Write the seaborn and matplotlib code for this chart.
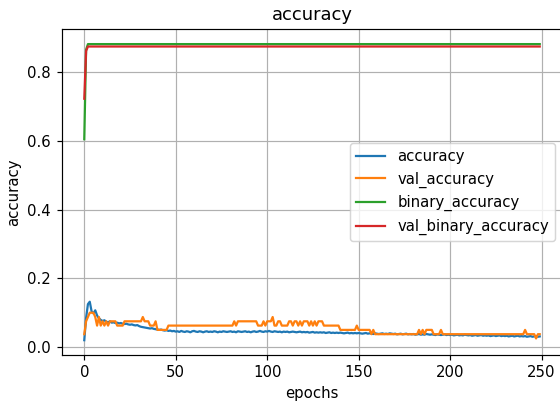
import numpy as np
import pandas as pd
import matplotlib
matplotlib.use("Agg")
import matplotlib.pyplot as plt
import seaborn as sns

accuracy = [
    0.020, 0.085, 0.125, 0.132, 0.104, 0.098, 0.107, 0.092, 0.084, 0.079,
    0.076, 0.078, 0.074, 0.072, 0.075, 0.071, 0.072, 0.070, 0.071, 0.069,
    0.070, 0.068, 0.067, 0.068, 0.066, 0.065, 0.066, 0.064, 0.063, 0.064,
    0.061, 0.059, 0.058, 0.057, 0.056, 0.055, 0.054, 0.055, 0.053, 0.052,
    0.051, 0.050, 0.051, 0.049, 0.048, 0.049, 0.047, 0.048, 0.046, 0.047,
    0.045, 0.046, 0.044, 0.047, 0.045, 0.044, 0.046, 0.045, 0.043, 0.046,
    0.047, 0.045, 0.044, 0.046, 0.045, 0.043, 0.045, 0.046, 0.044, 0.045,
    0.044, 0.046, 0.045, 0.043, 0.045, 0.044, 0.046, 0.045, 0.044, 0.045,
    0.046, 0.044, 0.045, 0.043, 0.046, 0.045, 0.044, 0.045, 0.046, 0.044,
    0.045, 0.043, 0.045, 0.046, 0.044, 0.045, 0.047, 0.045, 0.044, 0.046,
    0.045, 0.047, 0.045, 0.044, 0.046, 0.045, 0.044, 0.045, 0.043, 0.045,
    0.044, 0.045, 0.043, 0.044, 0.045, 0.044, 0.043, 0.044, 0.045, 0.043,
    0.044, 0.043, 0.044, 0.042, 0.043, 0.044, 0.042, 0.043, 0.042, 0.043,
    0.042, 0.043, 0.041, 0.042, 0.043, 0.041, 0.042, 0.041, 0.042, 0.041,
    0.042, 0.041, 0.040, 0.041, 0.042, 0.040, 0.041, 0.040, 0.041, 0.040,
    0.041, 0.040, 0.039, 0.040, 0.041, 0.039, 0.040, 0.039, 0.038, 0.040,
    0.039, 0.038, 0.039, 0.040, 0.038, 0.039, 0.038, 0.040, 0.039, 0.038,
    0.039, 0.037, 0.038, 0.039, 0.037, 0.038, 0.039, 0.037, 0.038, 0.037,
    0.038, 0.036, 0.037, 0.038, 0.036, 0.037, 0.036, 0.038, 0.037, 0.036,
    0.037, 0.036, 0.035, 0.037, 0.036, 0.035, 0.036, 0.037, 0.035, 0.036,
    0.035, 0.036, 0.034, 0.035, 0.036, 0.034, 0.035, 0.034, 0.036, 0.035,
    0.034, 0.035, 0.033, 0.034, 0.035, 0.033, 0.034, 0.035, 0.033, 0.034,
    0.033, 0.034, 0.032, 0.033, 0.034, 0.032, 0.033, 0.034, 0.032, 0.033,
    0.032, 0.033, 0.031, 0.032, 0.033, 0.031, 0.032, 0.033, 0.031, 0.032,
    0.031, 0.032, 0.030, 0.031, 0.032, 0.030, 0.031, 0.032, 0.030, 0.031,
]

val_accuracy = [
    0.0375, 0.075, 0.0875, 0.1, 0.1, 0.1, 0.0875, 0.0625, 0.0875, 0.0625,
    0.075, 0.0625, 0.075, 0.0625, 0.075, 0.075, 0.075, 0.075, 0.0625, 0.0625,
    0.0625, 0.0625, 0.075, 0.075, 0.075, 0.075, 0.075, 0.075, 0.075, 0.075,
    0.075, 0.075, 0.0875, 0.075, 0.075, 0.075, 0.0625, 0.0625, 0.0625, 0.075,
    0.05, 0.05, 0.05, 0.05, 0.05, 0.05, 0.0625, 0.0625, 0.0625, 0.0625,
    0.0625, 0.0625, 0.0625, 0.0625, 0.0625, 0.0625, 0.0625, 0.0625, 0.0625, 0.0625,
    0.0625, 0.0625, 0.0625, 0.0625, 0.0625, 0.0625, 0.0625, 0.0625, 0.0625, 0.0625,
    0.0625, 0.0625, 0.0625, 0.0625, 0.0625, 0.0625, 0.0625, 0.0625, 0.0625, 0.0625,
    0.0625, 0.0625, 0.075, 0.0625, 0.075, 0.075, 0.075, 0.075, 0.075, 0.075,
    0.075, 0.075, 0.075, 0.075, 0.075, 0.0625, 0.0625, 0.0625, 0.075, 0.0625,
    0.075, 0.075, 0.075, 0.0875, 0.0625, 0.0625, 0.075, 0.075, 0.0625, 0.0625,
    0.0625, 0.0625, 0.075, 0.075, 0.0625, 0.075, 0.075, 0.0625, 0.075, 0.0625,
    0.075, 0.075, 0.075, 0.0625, 0.075, 0.0625, 0.075, 0.0625, 0.075, 0.075,
    0.075, 0.0625, 0.0625, 0.0625, 0.0625, 0.0625, 0.0625, 0.0625, 0.0625, 0.0625,
    0.05, 0.05, 0.05, 0.05, 0.05, 0.05, 0.05, 0.05, 0.05, 0.0625,
    0.05, 0.05, 0.05, 0.05, 0.05, 0.05, 0.05, 0.0375, 0.05, 0.0375,
    0.0375, 0.0375, 0.0375, 0.0375, 0.0375, 0.0375, 0.0375, 0.0375, 0.0375, 0.0375,
    0.0375, 0.0375, 0.0375, 0.0375, 0.0375, 0.0375, 0.0375, 0.0375, 0.0375, 0.0375,
    0.0375, 0.0375, 0.0375, 0.05, 0.0375, 0.05, 0.0375, 0.05, 0.05, 0.05,
    0.05, 0.0375, 0.0375, 0.0375, 0.0375, 0.05, 0.0375, 0.0375, 0.0375, 0.0375,
    0.0375, 0.0375, 0.0375, 0.0375, 0.0375, 0.0375, 0.0375, 0.0375, 0.0375, 0.0375,
    0.0375, 0.0375, 0.0375, 0.0375, 0.0375, 0.0375, 0.0375, 0.0375, 0.0375, 0.0375,
    0.0375, 0.0375, 0.0375, 0.0375, 0.0375, 0.0375, 0.0375, 0.0375, 0.0375, 0.0375,
    0.0375, 0.0375, 0.0375, 0.0375, 0.0375, 0.0375, 0.0375, 0.0375, 0.0375, 0.0375,
    0.0375, 0.05, 0.0375, 0.0375, 0.0375, 0.0375, 0.0375, 0.025, 0.0375, 0.0375,
]

binary_accuracy = [
    0.605, 0.866, 0.882, 0.882, 0.882, 0.882, 0.882, 0.882, 0.882, 0.882,
    0.882, 0.882, 0.882, 0.882, 0.882, 0.882, 0.882, 0.882, 0.882, 0.882,
    0.882, 0.882, 0.882, 0.882, 0.882, 0.882, 0.882, 0.882, 0.882, 0.882,
    0.882, 0.882, 0.882, 0.882, 0.882, 0.882, 0.882, 0.882, 0.882, 0.882,
    0.882, 0.882, 0.882, 0.882, 0.882, 0.882, 0.882, 0.882, 0.882, 0.882,
    0.882, 0.882, 0.882, 0.882, 0.882, 0.882, 0.882, 0.882, 0.882, 0.882,
    0.882, 0.882, 0.882, 0.882, 0.882, 0.882, 0.882, 0.882, 0.882, 0.882,
    0.882, 0.882, 0.882, 0.882, 0.882, 0.882, 0.882, 0.882, 0.882, 0.882,
    0.882, 0.882, 0.882, 0.882, 0.882, 0.882, 0.882, 0.882, 0.882, 0.882,
    0.882, 0.882, 0.882, 0.882, 0.882, 0.882, 0.882, 0.882, 0.882, 0.882,
    0.882, 0.882, 0.882, 0.882, 0.882, 0.882, 0.882, 0.882, 0.882, 0.882,
    0.882, 0.882, 0.882, 0.882, 0.882, 0.882, 0.882, 0.882, 0.882, 0.882,
    0.882, 0.882, 0.882, 0.882, 0.882, 0.882, 0.882, 0.882, 0.882, 0.882,
    0.882, 0.882, 0.882, 0.882, 0.882, 0.882, 0.882, 0.882, 0.882, 0.882,
    0.882, 0.882, 0.882, 0.882, 0.882, 0.882, 0.882, 0.882, 0.882, 0.882,
    0.882, 0.882, 0.882, 0.882, 0.882, 0.882, 0.882, 0.882, 0.882, 0.882,
    0.882, 0.882, 0.882, 0.882, 0.882, 0.882, 0.882, 0.882, 0.882, 0.882,
    0.882, 0.882, 0.882, 0.882, 0.882, 0.882, 0.882, 0.882, 0.882, 0.882,
    0.882, 0.882, 0.882, 0.882, 0.882, 0.882, 0.882, 0.882, 0.882, 0.882,
    0.882, 0.882, 0.882, 0.882, 0.882, 0.882, 0.882, 0.882, 0.882, 0.882,
    0.882, 0.882, 0.882, 0.882, 0.882, 0.882, 0.882, 0.882, 0.882, 0.882,
    0.882, 0.882, 0.882, 0.882, 0.882, 0.882, 0.882, 0.882, 0.882, 0.882,
    0.882, 0.882, 0.882, 0.882, 0.882, 0.882, 0.882, 0.882, 0.882, 0.882,
    0.882, 0.882, 0.882, 0.882, 0.882, 0.882, 0.882, 0.882, 0.882, 0.882,
    0.882, 0.882, 0.882, 0.882, 0.882, 0.882, 0.882, 0.882, 0.882, 0.882,
]

val_binary_accuracy = [
    0.723, 0.862, 0.875, 0.875, 0.875, 0.875, 0.875, 0.875, 0.875, 0.875,
    0.875, 0.875, 0.875, 0.875, 0.875, 0.875, 0.875, 0.875, 0.875, 0.875,
    0.875, 0.875, 0.875, 0.875, 0.875, 0.875, 0.875, 0.875, 0.875, 0.875,
    0.875, 0.875, 0.875, 0.875, 0.875, 0.875, 0.875, 0.875, 0.875, 0.875,
    0.875, 0.875, 0.875, 0.875, 0.875, 0.875, 0.875, 0.875, 0.875, 0.875,
    0.875, 0.875, 0.875, 0.875, 0.875, 0.875, 0.875, 0.875, 0.875, 0.875,
    0.875, 0.875, 0.875, 0.875, 0.875, 0.875, 0.875, 0.875, 0.875, 0.875,
    0.875, 0.875, 0.875, 0.875, 0.875, 0.875, 0.875, 0.875, 0.875, 0.875,
    0.875, 0.875, 0.875, 0.875, 0.875, 0.875, 0.875, 0.875, 0.875, 0.875,
    0.875, 0.875, 0.875, 0.875, 0.875, 0.875, 0.875, 0.875, 0.875, 0.875,
    0.875, 0.875, 0.875, 0.875, 0.875, 0.875, 0.875, 0.875, 0.875, 0.875,
    0.875, 0.875, 0.875, 0.875, 0.875, 0.875, 0.875, 0.875, 0.875, 0.875,
    0.875, 0.875, 0.875, 0.875, 0.875, 0.875, 0.875, 0.875, 0.875, 0.875,
    0.875, 0.875, 0.875, 0.875, 0.875, 0.875, 0.875, 0.875, 0.875, 0.875,
    0.875, 0.875, 0.875, 0.875, 0.875, 0.875, 0.875, 0.875, 0.875, 0.875,
    0.875, 0.875, 0.875, 0.875, 0.875, 0.875, 0.875, 0.875, 0.875, 0.875,
    0.875, 0.875, 0.875, 0.875, 0.875, 0.875, 0.875, 0.875, 0.875, 0.875,
    0.875, 0.875, 0.875, 0.875, 0.875, 0.875, 0.875, 0.875, 0.875, 0.875,
    0.875, 0.875, 0.875, 0.875, 0.875, 0.875, 0.875, 0.875, 0.875, 0.875,
    0.875, 0.875, 0.875, 0.875, 0.875, 0.875, 0.875, 0.875, 0.875, 0.875,
    0.875, 0.875, 0.875, 0.875, 0.875, 0.875, 0.875, 0.875, 0.875, 0.875,
    0.875, 0.875, 0.875, 0.875, 0.875, 0.875, 0.875, 0.875, 0.875, 0.875,
    0.875, 0.875, 0.875, 0.875, 0.875, 0.875, 0.875, 0.875, 0.875, 0.875,
    0.875, 0.875, 0.875, 0.875, 0.875, 0.875, 0.875, 0.875, 0.875, 0.875,
    0.875, 0.875, 0.875, 0.875, 0.875, 0.875, 0.875, 0.875, 0.875, 0.875,
]

series_names = ["accuracy", "val_accuracy", "binary_accuracy", "val_binary_accuracy"]
series_values = [accuracy, val_accuracy, binary_accuracy, val_binary_accuracy]

frames = []
for name, vals in zip(series_names, series_values):
    frames.append(pd.DataFrame({"epochs": np.arange(len(vals)), "value": vals, "metric": name}))
df = pd.concat(frames, ignore_index=True)

DPI = 107
W, H = 560.0, 401.0
fig = plt.figure(figsize=(W / DPI, H / DPI), dpi=DPI)
left_px, right_px, top_px, bottom_px = 61.5, 562.5, 29.3, 355.0
ax = fig.add_axes([left_px / W, 1 - bottom_px / H, (right_px - left_px) / W, (bottom_px - top_px) / H])

palette = ["#1f77b4", "#ff7f0e", "#2ca02c", "#d62728"]
sns.lineplot(data=df, x="epochs", y="value", hue="metric", hue_order=series_names,
             palette=palette, linewidth=1.5, ax=ax)

ax.grid(True, color="#b0b0b0", linewidth=0.8)
ax.set_axisbelow(True)
ax.set_title("accuracy", fontsize=12)
ax.set_xlabel("epochs")
ax.set_ylabel("accuracy")
ax.set_xticks([0, 50, 100, 150, 200, 250])
ax.set_yticks([0.0, 0.2, 0.4, 0.6, 0.8])
ax.legend(loc="center right", fontsize=10)

fig.savefig("out.png", dpi=DPI)
